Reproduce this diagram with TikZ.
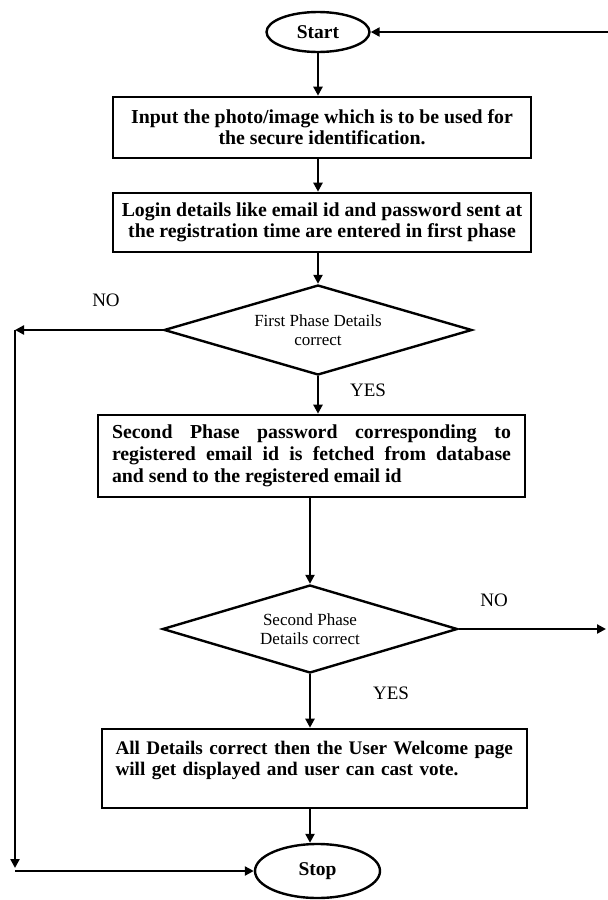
\documentclass[tikz,border=0pt]{standalone}
\usepackage{fontspec}
\setmainfont{Liberation Serif}
\usetikzlibrary{arrows.meta,positioning,shapes.geometric}

\begin{document}
\begin{tikzpicture}[
  x=1pt, y=1pt,
  box/.style={draw, line width=2.6pt, minimum height=60pt, inner sep=0pt,
              align=center, font=\fontsize{19.8}{21}\selectfont\bfseries},
  decision/.style={draw, diamond, line width=2.4pt, inner sep=0pt,
              align=center, font=\fontsize{17}{19.5}\selectfont},
  term/.style={draw, ellipse, line width=2.4pt, inner sep=0pt,
              font=\fontsize{19.5}{21}\selectfont\bfseries},
  arr/.style={line width=2.4pt, -{Triangle[length=9pt,width=9pt]}},
  lbl/.style={font=\fontsize{19}{20}\selectfont}
]
  \useasboundingbox (0,0) rectangle (608,-900);
  % flow boxes
  \node[term, minimum width=103pt, minimum height=40pt] (start) at (318,-32) {Start};
  \node[box, minimum width=418pt, minimum height=61pt] (input) at (322,-127.5)
    {Input the photo/image which is to be used for\\the secure identification.};
  \node[box, minimum width=418pt, minimum height=59pt] (login) at (322,-222.5)
    {Login details like email id and password sent at\\the registration time are entered in first phase};
  \node[decision, minimum width=308pt, minimum height=90pt, aspect=3.4] (first) at (318,-330)
    {First Phase Details\\correct};
  \node[box, minimum width=427pt, minimum height=82pt, text width=399pt, align=justify,
        font=\fontsize{19.8}{22}\selectfont\bfseries] (fetch) at (311.5,-456)
    {Second Phase password corresponding to\linebreak registered email id is fetched from database\linebreak and send to the registered email id};
  \node[decision, minimum width=295pt, minimum height=88pt, aspect=3.35] (second) at (310,-629)
    {Second Phase\\Details correct};
  \node[box, minimum width=425pt, minimum height=79pt, text width=398pt, align=left,
        font=\fontsize{19.2}{21}\selectfont\bfseries] (welcome) at (314.5,-768.5)
    {All Details correct then the User Welcome page\\will get displayed and user can cast vote.\\ \mbox{}};
  \node[term, minimum width=125pt, minimum height=54pt] (stop) at (317.5,-871) {Stop};
  % loose ends
  \coordinate (back) at (608,-32);
  \coordinate (noleft) at (15,-330);
  \coordinate (noright) at (606,-629);
  % labels
  \node[lbl] (no1) at (106,-300) {NO};
  \node[lbl] (yes1) at (368,-390) {YES};
  \node[lbl] (no2) at (494,-600) {NO};
  \node[lbl] (yes2) at (391,-693) {YES};
  % connectors
  \draw[arr] (back) -- (start.east);
  \draw[arr] (start.south) -- (start.south |- input.north);
  \draw[arr] (start.south |- input.south) -- (start.south |- login.north);
  \draw[arr] (start.south |- login.south) -- (first.north);
  \draw[arr] (first.west) -- (noleft);
  \draw[arr] (noleft) -- ([yshift=3pt]noleft |- stop.west);
  \draw[arr] (noleft |- stop.west) -- (stop.west);
  \draw[arr] (first.south) -- (first.south |- fetch.north);
  \draw[arr] (second.north |- fetch.south) -- (second.north);
  \draw[arr] (second.east) -- (noright);
  \draw[arr] (second.south) -- (second.south |- welcome.north);
  \draw[arr] (second.south |- welcome.south) -- (second.south |- stop.north);
\end{tikzpicture}
\end{document}
